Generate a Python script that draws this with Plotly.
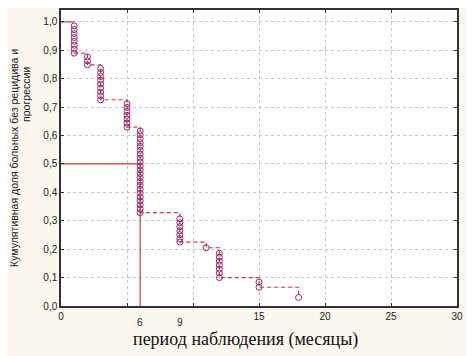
import plotly.graph_objects as go

# Kaplan-Meier step function (event times and survival level after each)
step_times = [0, 1, 2, 3, 5, 6, 9, 11, 12, 15, 18]
step_surv = [1.0, 0.890, 0.849, 0.726, 0.630, 0.329, 0.225, 0.205, 0.100, 0.066, 0.030]
step_end = 18

ev_x = ([1] * 8 + [2] * 3 + [3] * 9 + [5] * 7 + [6] * 22 + [9] * 7 + [11] + [12] * 7
        + [15] * 2 + [18])
ev_y = [0.986, 0.973, 0.959, 0.945, 0.932, 0.918, 0.904, 0.890,
        0.877, 0.863, 0.849,
        0.836, 0.822, 0.808, 0.795, 0.781, 0.767, 0.753, 0.740, 0.726,
        0.712, 0.699, 0.685, 0.671, 0.658, 0.644, 0.630,
        0.616, 0.603, 0.589, 0.575, 0.562, 0.548, 0.534, 0.521, 0.507, 0.493, 0.479,
        0.466, 0.452, 0.438, 0.425, 0.411, 0.397, 0.384, 0.370, 0.356, 0.342, 0.329,
        0.307, 0.293, 0.279, 0.265, 0.251, 0.237, 0.225,
        0.205,
        0.186, 0.172, 0.158, 0.144, 0.130, 0.116, 0.100,
        0.084, 0.066,
        0.030]

# Median survival
median_surv = 0.5
median_time = 6

x_tickvals = [0, 5, 10, 15, 20, 25, 30]
x_ticktext = ["0", "", "", "15", "20", "25", "30"]
x_extra_labels = [6, 9]
y_tickvals = [0.0, 0.1, 0.2, 0.3, 0.4, 0.5, 0.6, 0.7, 0.8, 0.9, 1.0]
y_ticktext = ["0,0", "0,1", "0,2", "0,3", "0,4", "0,5", "0,6", "0,7", "0,8", "0,9", "1,0"]

y_title_1 = "Кумулятивная доля больных без рецидива и"
y_title_2 = "прогрессии"
x_title = "период наблюдения (месяцы)"

line_col = "#d03a3a"
mark_col = "#9a2a6a"

fig = go.Figure()

# first flat segment solid
fig.add_trace(go.Scatter(x=[step_times[0], step_times[1]], y=[step_surv[0], step_surv[0]],
                         mode="lines", line=dict(color=line_col, width=1.2),
                         hoverinfo="skip", showlegend=False))
# remaining step line dashed
fig.add_trace(go.Scatter(x=step_times[1:] + [step_end], y=step_surv[1:] + [step_surv[-1]],
                         mode="lines",
                         line=dict(color=line_col, width=1.2, dash="4px,3px", shape="hv"),
                         hoverinfo="skip", showlegend=False))
# median lines
fig.add_trace(go.Scatter(x=[0, median_time, median_time], y=[median_surv, median_surv, 0],
                         mode="lines", line=dict(color=line_col, width=1.2),
                         hoverinfo="skip", showlegend=False))
# markers
fig.add_trace(go.Scatter(x=ev_x, y=ev_y, mode="markers",
                         marker=dict(symbol="circle-open", size=6, color=mark_col,
                                     line=dict(width=1, color=mark_col)),
                         showlegend=False))

for v in x_extra_labels:
    fig.add_annotation(x=v, y=0, xref="x", yref="paper", text=str(v), showarrow=False,
                       yanchor="middle", yshift=-16,
                       font=dict(family="Arial", size=10, color="#222"))

fig.add_annotation(x=0.465, y=0, xref="paper", yref="paper", xanchor="center",
                   yanchor="middle", yshift=-33,
                   text=x_title, showarrow=False,
                   font=dict(family="Liberation Serif, Times New Roman, serif", size=18,
                             color="#111"))

fig.add_annotation(x=-0.119, y=0.5, xref="paper", yref="paper", textangle=-90,
                   xanchor="center", yanchor="middle",
                   text=y_title_1, showarrow=False,
                   font=dict(family="Arial", size=10.5, color="#222"))
fig.add_annotation(x=-0.087, y=0.715, xref="paper", yref="paper", textangle=-90,
                   xanchor="center", yanchor="middle",
                   text=y_title_2, showarrow=False,
                   font=dict(family="Arial", size=10.5, color="#222"))

fig.update_xaxes(range=[0, 30], tickvals=x_tickvals, ticktext=x_ticktext,
                 showgrid=True, gridcolor="#c8c8c8", griddash="dot", gridwidth=1,
                 showline=True, linecolor="#333", linewidth=1.5, mirror="ticks",
                 ticks="inside", ticklen=3, tickcolor="#333",
                 zeroline=False, tickfont=dict(family="Arial", size=10, color="#222"))
fig.update_yaxes(range=[0, 1.042], tickvals=y_tickvals, ticktext=y_ticktext,
                 showgrid=True, gridcolor="#c8c8c8", griddash="dot", gridwidth=1,
                 showline=True, linecolor="#333", linewidth=1.5, mirror="ticks",
                 ticks="inside", ticklen=3, tickcolor="#333",
                 zeroline=False, tickfont=dict(family="Arial", size=10, color="#222"))

fig.update_layout(width=466, height=348, margin=dict(l=53, r=17, t=0, b=50),
                  paper_bgcolor="#fcf8ef", plot_bgcolor="white")

fig.write_html("out.html")
